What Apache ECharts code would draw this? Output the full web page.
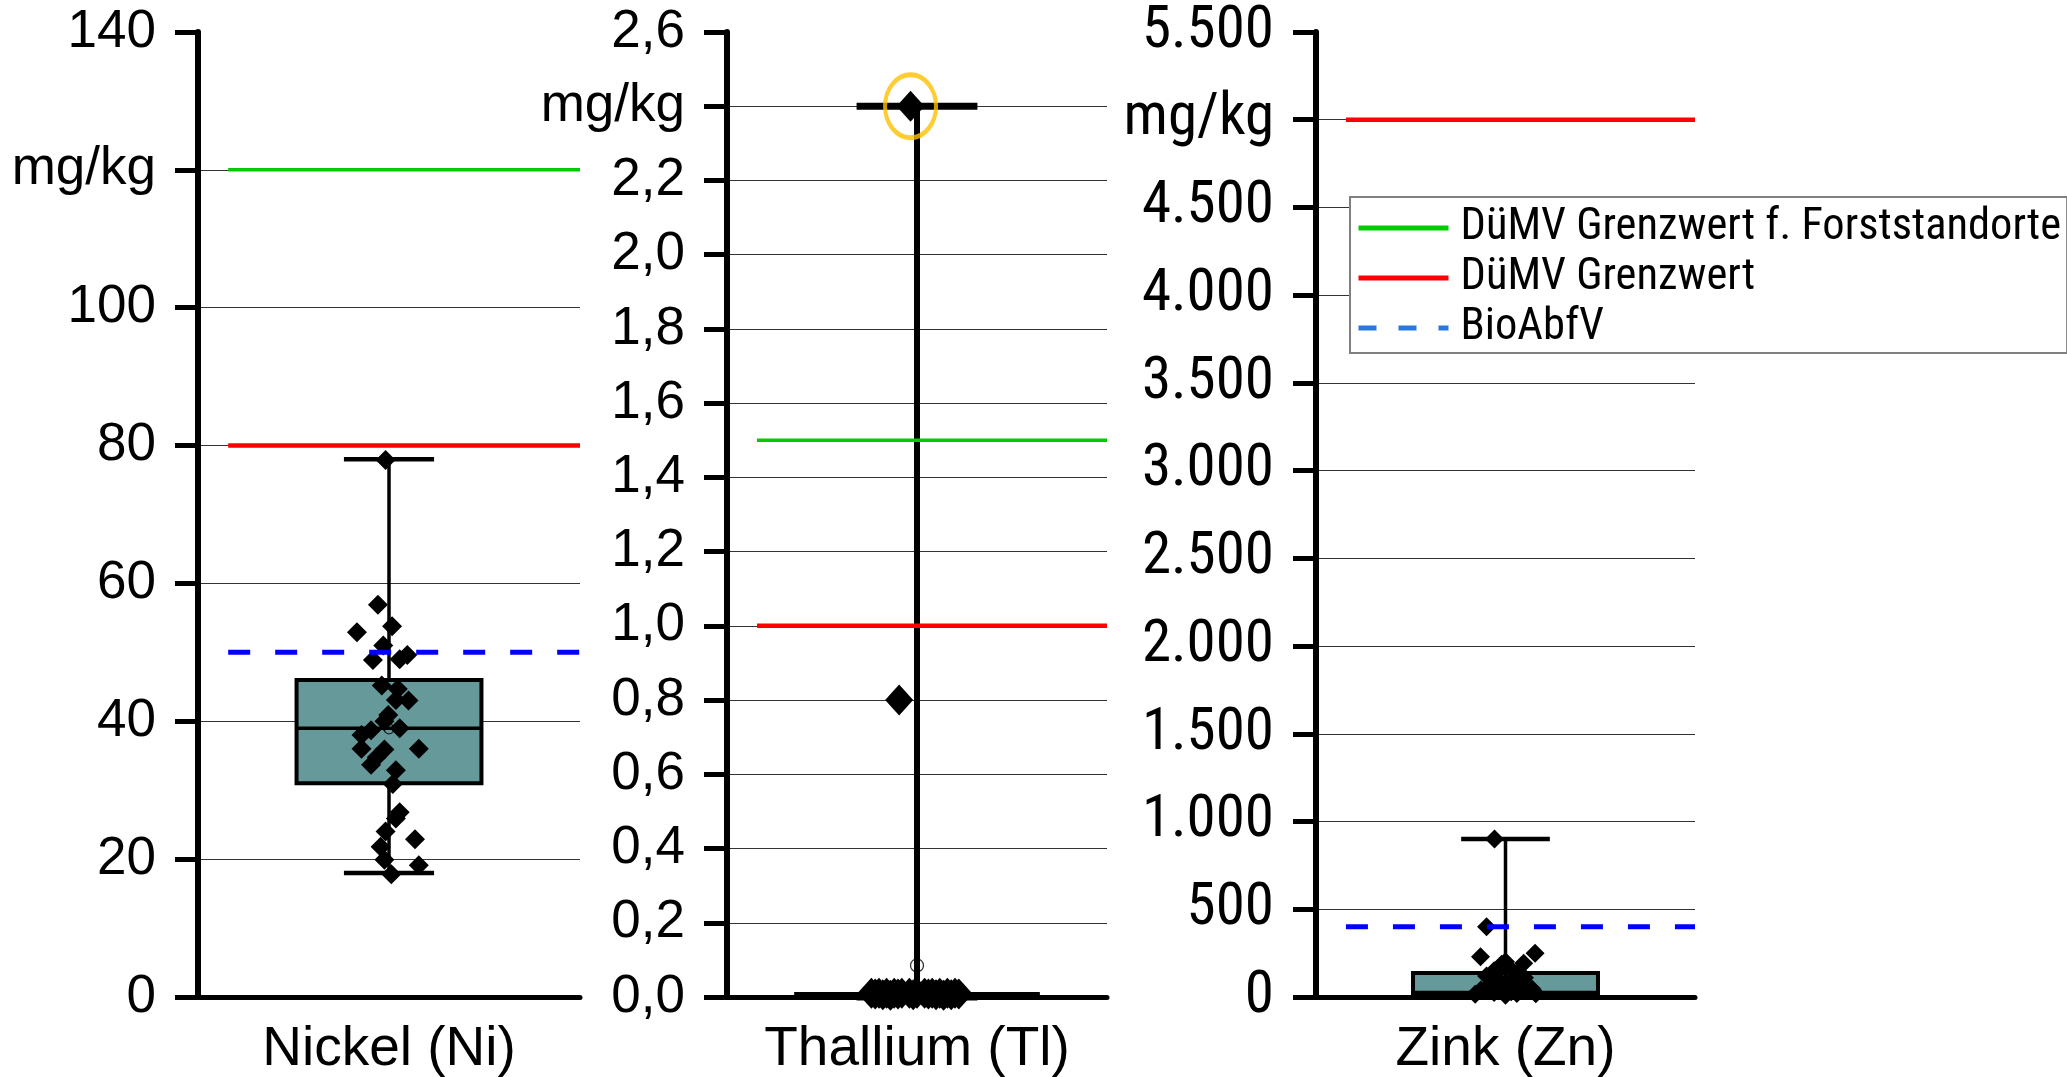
<!DOCTYPE html>
<html><head><meta charset="utf-8">
<script src="https://cdn.jsdelivr.net/npm/echarts@6/dist/echarts.min.js"></script>
<style>html,body{margin:0;padding:0;background:#fff}#c{width:2067px;height:1077px}</style>
</head><body><div id="c"></div>
<script>
// ---------------- DATA ----------------
const categories = ['Nickel (Ni)', 'Thallium (Tl)', 'Zink (Zn)'];
// box statistics: [min, q1, median, q3, max]
const nickelBox = [18, 31, 39, 46, 78];
const thalliumBox = [0, 0.002, 0.005, 0.008, 2.4];
const zinkBox = [0, 20, 25, 137, 900];
const nickelMean = 38.9;
const thalliumMean = 0.085;

const nickelValues = [77.9, 56.9, 52.9, 53.8, 51, 49.6, 48.9, 49, 45.2, 44.7, 43.1, 43, 40.9, 40, 39, 38, 38.7, 36, 36, 35.9, 34.8, 33.7, 32.9, 30.9, 26.8, 25.9, 24, 22.9, 21.8, 19.9, 19.1, 17.8];
const nickelJitter = [-0.009, -0.029, -0.084, 0.008, -0.015, 0.048, -0.042, 0.028, -0.019, 0.023, 0.018, 0.051, -0.002, -0.012, 0.028, -0.072, -0.047, -0.072, 0.078, -0.012, -0.032, -0.047, 0.018, 0.010, 0.028, 0.018, -0.009, 0.068, -0.022, -0.012, 0.078, 0.006];

const thalliumValues = [2.4, 0.8, 0.01, 0.01, 0.01, 0.01, 0.01, 0.01, 0.01, 0.01, 0.01, 0.01, 0.01, 0.01, 0.008, 0.008, 0.008, 0.008, 0.006, 0.006, 0.006, 0.006, 0.005, 0.005];
const thalliumJitter = [-0.017, -0.047, -0.12, -0.1, -0.08, -0.06, -0.04, -0.02, 0.0, 0.02, 0.04, 0.06, 0.08, 0.1, -0.11, -0.05, 0.03, 0.11, -0.09, -0.01, 0.05, 0.09, -0.07, 0.07];

const zinkValues = [900, 400, 230, 250, 201, 192, 187, 150, 165, 140, 120, 110, 100, 95, 80, 70, 65, 40, 45, 50, 30, 25, 20, 15, 18, 10];
const zinkJitter = [-0.029, -0.05, -0.066, 0.078, 0.0, 0.048, -0.01, -0.03, 0.01, 0.035, -0.05, 0.05, -0.02, 0.02, 0.0, -0.04, 0.04, -0.065, 0.07, -0.01, 0.015, -0.03, 0.03, -0.08, 0.08, 0.0];

const nickelTickLabels = ['0', '20', '40', '60', '80', '100', 'mg/kg', '140'];
const thalliumTickLabels = ['0,0', '0,2', '0,4', '0,6', '0,8', '1,0', '1,2', '1,4', '1,6', '1,8', '2,0', '2,2', 'mg/kg', '2,6'];
const zinkTickLabels = ['0', '500', '1.000', '1.500', '2.000', '2.500', '3.000', '3.500', '4.000', '4.500', 'mg/kg', '5.500'];

const limitNames = ['DüMV Grenzwert f. Forststandorte', 'DüMV Grenzwert', 'BioAbfV'];
const nickelLimits = [120, 80, 50];
const thalliumLimits = [1.5, 1.0, null];
const zinkLimits = [null, 5000, 400];

// ---------------- STYLE / LAYOUT ----------------
const ARIAL = '"Liberation Sans", Arial, sans-serif';
const NARROW = '"Roboto Condensed", Roboto, sans-serif';
const limitStyles = [
  { color: '#00cc00', width: 3.5, type: 'solid' },
  { color: '#ff0000', width: 4.5, type: 'solid' },
  { color: '#0000ff', width: 5, type: [22, 25] }
];

const panels = [
  { left: 198, width: 382, max: 140, interval: 20, labels: nickelTickLabels, font: ARIAL, fontSize: 53, fontStyle: 'normal',
    box: nickelBox, values: nickelValues, jitter: nickelJitter, limits: nickelLimits, mean: nickelMean,
    halfBox: 0.242, halfCap: 0.118, whiskerW: 3.5, capW: 4.5, sym: 20 },
  { left: 727, width: 380, max: 2.6, interval: 0.2, labels: thalliumTickLabels, font: ARIAL, fontSize: 53, fontStyle: 'normal',
    box: thalliumBox, values: thalliumValues, jitter: thalliumJitter, limits: thalliumLimits, mean: thalliumMean,
    halfBox: 0.318, halfCap: 0.159, whiskerW: 6, capW: 7, sym: [28, 31] },
  { left: 1316, width: 379, max: 5500, interval: 500, labels: zinkTickLabels, font: NARROW, fontSize: 59, fontStyle: 'condensed',
    box: zinkBox, values: zinkValues, jitter: zinkJitter, limits: zinkLimits, mean: null,
    halfBox: 0.244, halfCap: 0.117, whiskerW: 3.5, capW: 4.5, sym: 19 }
];
const TOP = 32, HEIGHT = 965, CENTER = 0.5, LIMIT_START = 0.079;

function boxRenderer(p) {
  return function (params, api) {
    const x = api.value(0);
    const mn = api.coord([x, api.value(1)]);
    const q1 = api.coord([x, api.value(2)]);
    const md = api.coord([x, api.value(3)]);
    const q3 = api.coord([x, api.value(4)]);
    const mx = api.coord([x, api.value(5)]);
    const hb = api.size([p.halfBox, 0])[0];
    const hc = api.size([p.halfCap, 0])[0];
    const cx = mn[0];
    const k = { stroke: '#000', lineWidth: p.whiskerW };
    const c = { stroke: '#000', lineWidth: p.capW };
    return { type: 'group', children: [
      { type: 'line', shape: { x1: cx, y1: q3[1], x2: cx, y2: mx[1] }, style: k },
      { type: 'line', shape: { x1: cx, y1: mn[1], x2: cx, y2: q1[1] }, style: k },
      { type: 'line', shape: { x1: cx - hc, y1: mx[1], x2: cx + hc, y2: mx[1] }, style: c },
      { type: 'line', shape: { x1: cx - hc, y1: mn[1], x2: cx + hc, y2: mn[1] }, style: c },
      { type: 'rect', shape: { x: cx - hb, y: q3[1], width: 2 * hb, height: q1[1] - q3[1] }, style: { fill: '#669999', stroke: '#000', lineWidth: 4 } },
      { type: 'line', shape: { x1: cx - hb, y1: md[1], x2: cx + hb, y2: md[1] }, style: { stroke: '#000', lineWidth: 3.5 } }
    ] };
  };
}

const grid = [], xAxis = [], yAxis = [], series = [];
panels.forEach((p, i) => {
  grid.push({ left: p.left, top: TOP, width: p.width, height: HEIGHT });
  yAxis.push({
    type: 'value', gridIndex: i, min: 0, max: p.max, interval: p.interval,
    axisLine: { show: true, lineStyle: { color: '#000', width: 6 } },
    axisTick: { show: true, inside: false, length: 23, lineStyle: { color: '#000', width: 5 } },
    axisLabel: { margin: 42, color: '#000', fontFamily: p.font, fontSize: p.fontSize, fontStyle: p.fontStyle,
      formatter: (v) => p.labels[Math.round(v / p.interval)] },
    splitLine: { show: true, showMinLine: false, showMaxLine: false, lineStyle: { color: '#333', width: 1.2 } }
  });
  xAxis.push({
    type: 'category', gridIndex: i, data: [categories[i]], boundaryGap: true,
    axisLine: { show: true, lineStyle: { color: '#000', width: 5 } },
    axisTick: { show: false },
    axisLabel: { margin: 25, color: '#000', fontFamily: ARIAL, fontSize: 55 },
    splitLine: { show: false }
  });
});
panels.forEach((p, i) => {
  xAxis.push({ type: 'value', gridIndex: i, min: 0, max: 1, show: false });
});

panels.forEach((p, i) => {
  const vx = 3 + i;
  series.push({
    type: 'custom', xAxisIndex: vx, yAxisIndex: i, z: 2, silent: true,
    renderItem: boxRenderer(p), encode: { x: 0, y: [1, 2, 3, 4, 5] },
    data: [[CENTER].concat(p.box)]
  });
  series.push({
    type: 'scatter', xAxisIndex: vx, yAxisIndex: i, z: 3, silent: true,
    symbol: 'diamond', symbolSize: p.sym, itemStyle: { color: '#000', opacity: 1 },
    data: p.values.map((v, j) => [CENTER + p.jitter[j], v])
  });
  if (p.mean !== null) {
    series.push({
      type: 'scatter', xAxisIndex: vx, yAxisIndex: i, z: 3, silent: true,
      symbol: 'circle', symbolSize: i === 1 ? 13 : 10,
      itemStyle: { color: 'rgba(0,0,0,0)', borderColor: '#000', borderWidth: 1.3 },
      data: [[CENTER, p.mean]]
    });
  }
  p.limits.forEach((v, k) => {
    if (v === null) return;
    series.push({
      type: 'line', name: limitNames[k], xAxisIndex: vx, yAxisIndex: i, z: 5, silent: true,
      symbol: 'none', lineStyle: limitStyles[k], itemStyle: { color: limitStyles[k].color },
      data: [[LIMIT_START, v], [1, v]]
    });
  });
});
// highlight ellipse around Thallium maximum
series.push({
  type: 'scatter', xAxisIndex: 4, yAxisIndex: 1, z: 6, silent: true,
  symbol: 'circle', symbolSize: [51, 63],
  itemStyle: { color: 'rgba(0,0,0,0)', borderColor: '#ffc000', borderWidth: 4.5 },
  data: [[CENTER + thalliumJitter[0], thalliumValues[0]]]
});

const chart = echarts.init(document.getElementById('c'), null, { renderer: 'canvas' });
chart.setOption({
  animation: false,
  backgroundColor: '#fff',
  grid, xAxis, yAxis, series,
  legend: {
    left: 1350, top: 197, orient: 'vertical', selectedMode: false,
    backgroundColor: '#fff', borderColor: '#808080', borderWidth: 2,
    padding: [6, 6, 0, 6], itemGap: 0, itemWidth: 90, itemHeight: 14,
    lineStyle: { width: 5 }, itemStyle: { opacity: 0 },
    textStyle: { fontFamily: NARROW, fontStyle: 'condensed', fontSize: 44.5, color: '#000', lineHeight: 50, padding: [0, 0, 0, 7] },
    data: [
      { name: limitNames[0] },
      { name: limitNames[1] },
      { name: limitNames[2], lineStyle: { color: '#2a78dc', type: [18, 22], width: 5 } }
    ]
  }
});
</script></body></html>
